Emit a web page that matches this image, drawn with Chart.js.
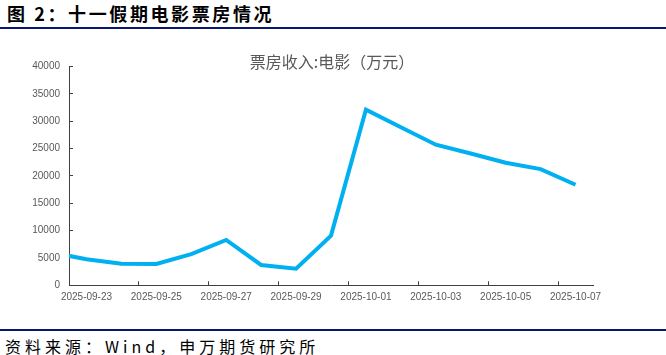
<!DOCTYPE html>
<html>
<head>
<meta charset="utf-8">
<script src="https://cdn.jsdelivr.net/npm/chart.js@4"></script>
<style>
  html, body { margin: 0; padding: 0; background: #fff; }
  #wrap { position: relative; width: 666px; height: 355px; overflow: hidden; }
  #fig { position: absolute; left: 7px; top: 0px; font: bold 18px "Noto Sans CJK SC"; letter-spacing: 2.6px; color: #000; white-space: nowrap; }
  .rule { position: absolute; left: 0; width: 666px; height: 2px; background: #0b1670; }
  #src { position: absolute; left: 5px; top: 334px; font: 16px "Noto Sans CJK SC"; letter-spacing: 4px; color: #000; white-space: nowrap; }
  #chart { position: absolute; left: 0; top: 30px; }
</style>
</head>
<body>
<div id="wrap">
  <div id="fig">图 2：十一假期电影票房情况</div>
  <div class="rule" style="top:27px"></div>
  <canvas id="chart" width="666" height="298"></canvas>
  <div class="rule" style="top:329px"></div>
  <div id="src">资料来源：Wind，申万期货研究所</div>
</div>
<script>
// daily box office, 万元 (09-22 sits just left of the axis and is clipped)
const dates = [
  '2025-09-22', '2025-09-23', '2025-09-24', '2025-09-25', '2025-09-26', '2025-09-27',
  '2025-09-28', '2025-09-29', '2025-09-30', '2025-10-01', '2025-10-02', '2025-10-03',
  '2025-10-04', '2025-10-05', '2025-10-06', '2025-10-07'
]
const boxOffice = [
  6000, 4760, 3950, 3900, 5700, 8300,
  3720, 3040, 9090, 32120, 28900, 25700,
  24100, 22400, 21250, 18380
]
const yTicks = [0, 5000, 10000, 15000, 20000, 25000, 30000, 35000, 40000]

const axisColor = '#404040'
const labelColor = '#595959'
const numFont = { family: 'Liberation Sans', size: 10 }

new Chart(document.getElementById('chart'), {
  type: 'line',
  data: {
    labels: dates,
    datasets: [{
      data: boxOffice,
      borderColor: '#00b0f0',
      borderWidth: 4,
      pointRadius: 0,
      tension: 0,
      clip: 0,
    }],
  },
  options: {
    responsive: false,
    animation: false,
    layout: { padding: { top: 0, right: 2, bottom: 0, left: 0 } },
    plugins: {
      legend: { display: false },
      tooltip: { enabled: false },
      title: {
        display: true,
        text: '票房收入:电影（万元）',
        color: labelColor,
        font: { family: 'Noto Sans CJK SC', size: 16, weight: 'normal', lineHeight: 1 },
        padding: { top: 23.5, bottom: -3 },
      },
    },
    scales: {
      x: {
        type: 'category',
        min: '2025-09-23',
        offset: true,
        grid: {
          offset: true,
          drawOnChartArea: false,
          tickLength: -4,
          color: (ctx) => (ctx.index > 0 && ctx.index % 2 === 0 ? axisColor : 'rgba(0,0,0,0)'),
        },
        border: { color: axisColor, width: 1 },
        ticks: {
          autoSkip: false,
          maxRotation: 0,
          color: labelColor,
          font: numFont,
          padding: 10,
          callback: function (v, i) { return i % 2 === 0 ? this.getLabelForValue(v) : '' },
        },
        afterFit: (s) => { s.height = 42.7 },
      },
      y: {
        min: 0,
        max: 40000,
        afterBuildTicks: (s) => { s.ticks = yTicks.map((v) => ({ value: v })) },
        grid: { drawOnChartArea: false, tickLength: -4, color: axisColor },
        border: { color: axisColor, width: 1 },
        ticks: { color: labelColor, font: numFont, padding: 13, callback: (v) => String(v) },
        afterFit: (s) => { s.width = 69 },
      },
      // empty right-hand axis: keeps the plot at 69..593 while the title centres over it
      y2: {
        position: 'right',
        display: true,
        grid: { display: false },
        border: { display: false },
        ticks: { display: false },
        afterFit: (s) => { s.width = 71 },
      },
    },
  },
})
</script>
</body>
</html>
